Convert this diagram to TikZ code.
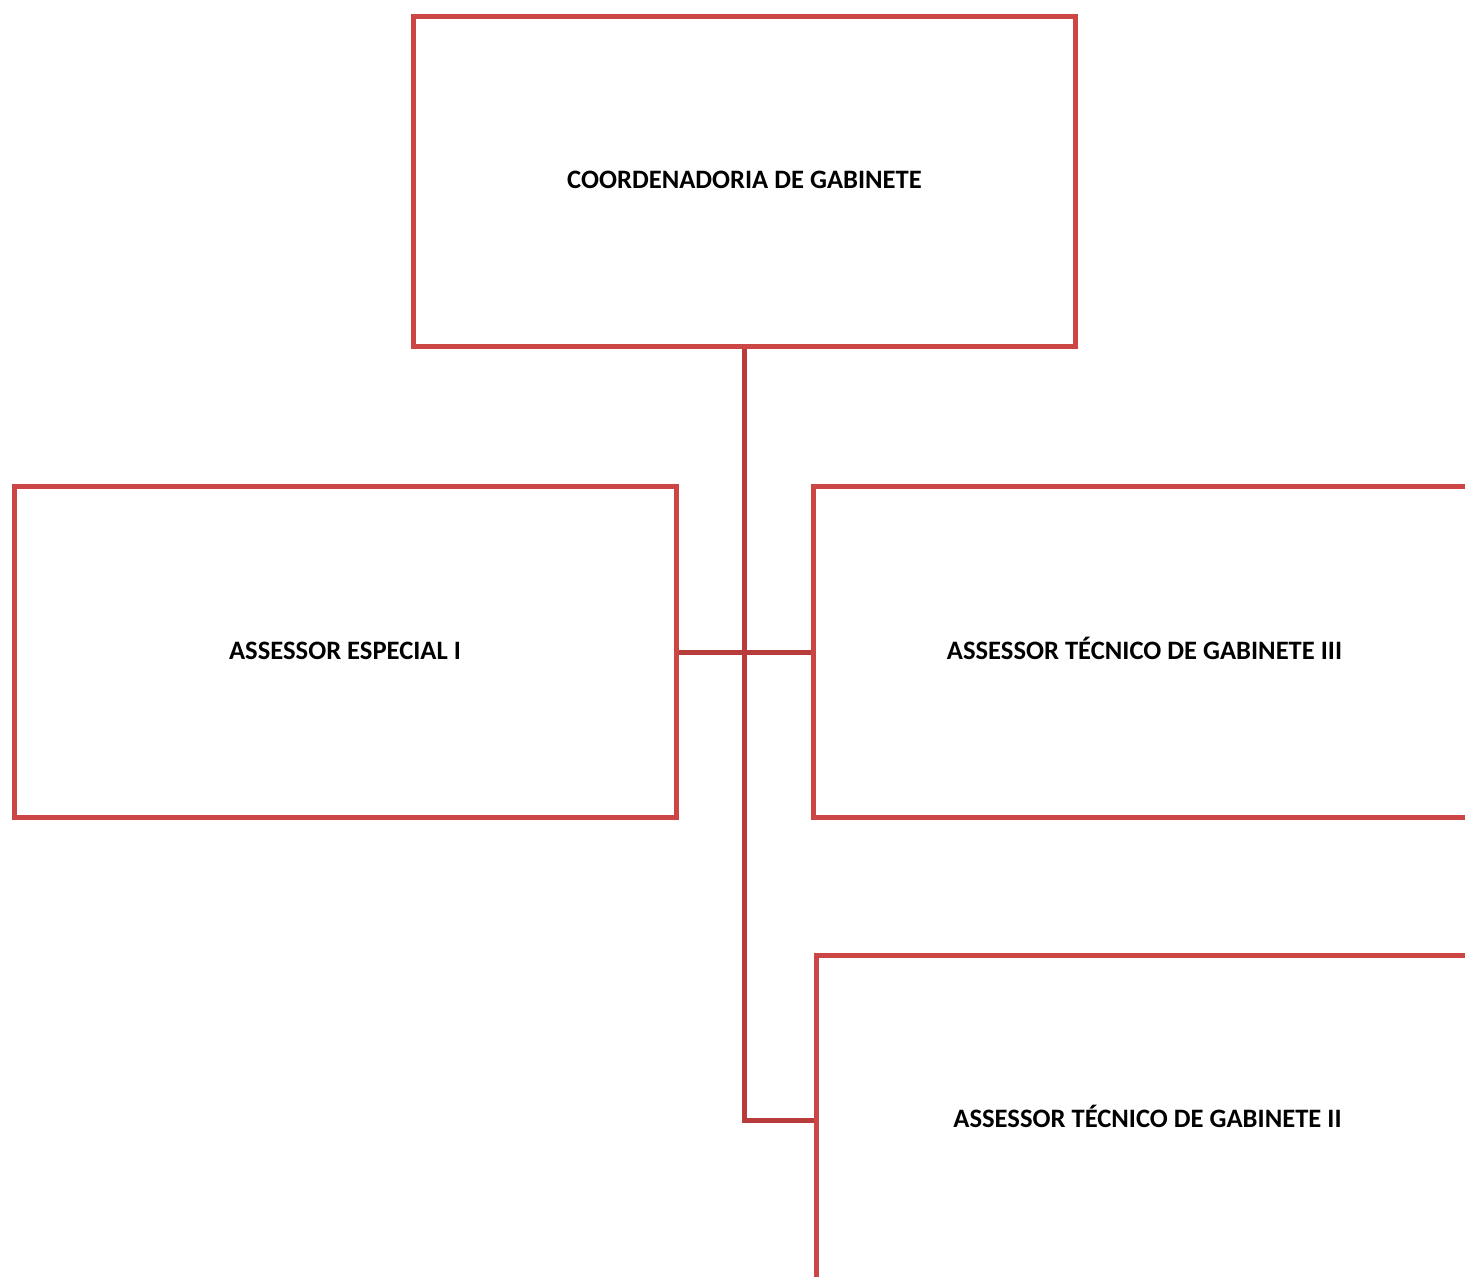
\documentclass[tikz,border=0pt]{standalone}
\usepackage{fontspec}
\setmainfont{Carlito}
\usepackage{tikz}
\usetikzlibrary{calc}

\definecolor{boxred}{RGB}{205,70,70}
\definecolor{linkred}{RGB}{185,60,60}

\begin{document}
\begin{tikzpicture}[x=0.5pt, y=-0.5pt,
 every text node part/.style={align=center},
block/.style={rectangle, inner sep=0pt, minimum width=331pt, minimum height=165pt, text height=9pt, text depth=2pt, draw=boxred, line width=2.5pt, font=\fontsize{13.3}{15}\selectfont\bfseries},
conn/.style={draw=linkred, line width=2.5pt}]

	\clip (0,0) rectangle (1465,1277);

	\node[block] (coord) at (744.5,182) {COORDENADORIA DE GABINETE};
	\node[block] (esp) at (345,652) {ASSESSOR ESPECIAL I};
	\node[block] (tec3) at (1144.5,652) {ASSESSOR TÉCNICO DE GABINETE III};
	\node[block] (tec2) at (1147.5,1120) {ASSESSOR TÉCNICO DE GABINETE II};

	\draw[conn] (coord.south) -- (coord.south |- tec2.west) -- (tec2.west);
	\draw[conn] (esp.east) -- (tec3.west);
\end{tikzpicture}
\end{document}
